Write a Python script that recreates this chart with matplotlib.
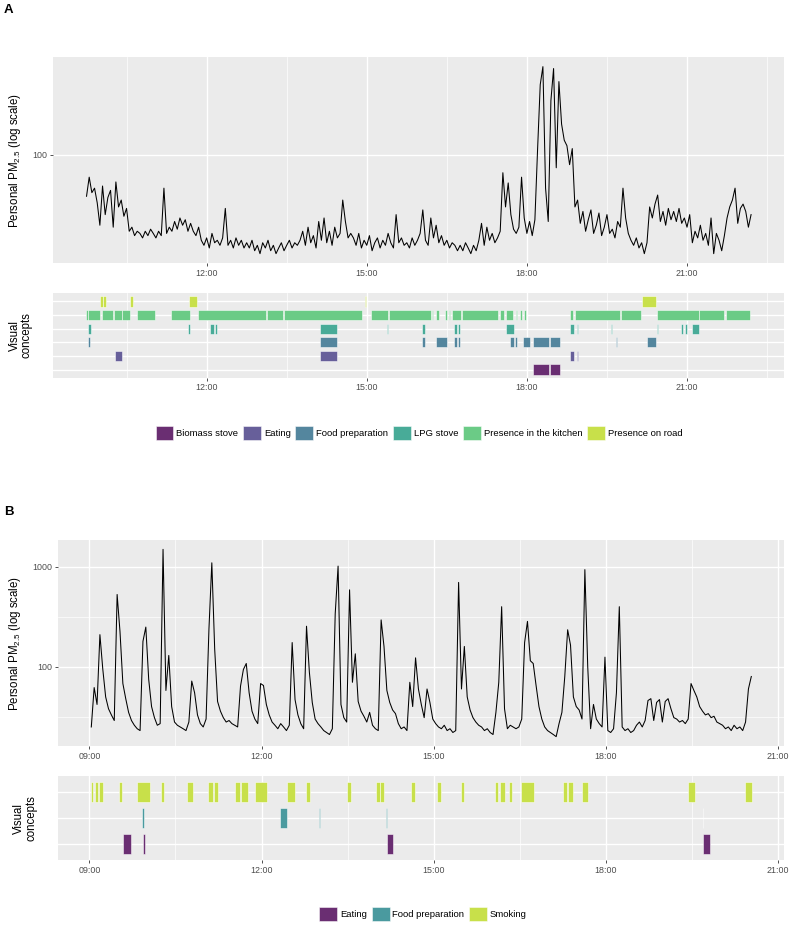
import numpy as np
import matplotlib.pyplot as plt
from matplotlib.patches import Patch
from matplotlib.ticker import FuncFormatter, NullFormatter

plt.rcParams['font.family'] = ['Liberation Sans', 'DejaVu Sans']
plt.rcParams['mathtext.fontset'] = 'custom'
plt.rcParams['mathtext.rm'] = 'Liberation Sans'

# ---- panel A: personal PM2.5, one reading every 3 minutes from 09:45
pm_a_start = "09:45"
pm_a = [
    53, 71, 56, 60, 48, 34, 62, 40, 52, 58, 33, 66, 45, 50, 39, 44, 31, 33, 29, 31,
    30, 28, 31, 29, 32, 30, 28, 31, 29, 60, 30, 33, 31, 36, 32, 38, 34, 37, 31, 35,
    31, 29, 33, 27, 25, 28, 24, 30, 26, 27, 25, 28, 44, 25, 27, 24, 28, 25, 27, 24,
    26, 24, 27, 23, 25, 22, 26, 24, 27, 23, 25, 22, 24, 26, 23, 25, 27, 24, 26, 25,
    27, 31, 25, 33, 26, 29, 24, 36, 27, 38, 26, 31, 25, 33, 28, 30, 50, 36, 28, 30,
    28, 25, 30, 24, 27, 25, 29, 23, 26, 28, 24, 27, 25, 30, 26, 24, 40, 26, 28, 25,
    26, 24, 28, 25, 27, 30, 43, 27, 25, 38, 28, 34, 26, 29, 25, 27, 24, 26, 25, 23,
    25, 23, 26, 24, 22, 25, 23, 27, 35, 25, 33, 27, 30, 26, 28, 31, 76, 45, 65, 40,
    32, 30, 33, 71, 38, 30, 36, 29, 37, 108, 293, 386, 60, 36, 230, 375, 82, 307, 160, 125,
    115, 86, 110, 45, 50, 35, 42, 31, 37, 43, 30, 34, 41, 29, 33, 40, 30, 32, 28, 36,
    33, 60, 38, 30, 27, 25, 28, 24, 26, 22, 26, 45, 38, 47, 54, 36, 42, 34, 44, 37,
    42, 36, 44, 35, 38, 33, 40, 26, 31, 28, 34, 27, 30, 25, 38, 22, 30, 27, 23, 29,
    38, 45, 50, 60, 35, 44, 47, 42, 33, 40,
]

concepts_a = ["Biomass stove", "Eating", "Food preparation", "LPG stove",
              "Presence in the kitchen", "Presence on road"]
colors_a = ["#6a2e72", "#675f9a", "#54869e", "#48ab98", "#6bcb86", "#c8e04a"]

biomass_a = [("18:07", "18:25"), ("18:26", "18:37")]
eating_a = [("10:17", "10:25"), ("14:07", "14:27"), ("18:49", "18:53"), ("18:56", "18:58")]
food_a = [("9:47", "9:49"), ("14:07", "14:27"), ("16:02", "16:05"), ("16:18", "16:30"),
          ("16:38", "16:41"), ("16:43", "16:45"), ("17:41", "17:46"), ("17:47", "17:49"),
          ("17:56", "18:03"), ("18:07", "18:25"), ("18:26", "18:37"), ("19:40", "19:41"),
          ("20:15", "20:25")]
lpg_a = [("9:47", "9:50"), ("11:39", "11:41"), ("12:04", "12:08"), ("12:09", "12:12"),
         ("14:07", "14:27"), ("15:23", "15:24"), ("16:02", "16:05"), ("16:38", "16:41"),
         ("16:43", "16:45"), ("17:37", "17:45"), ("18:49", "18:53"), ("18:56", "18:58"),
         ("19:35", "19:36"), ("20:26", "20:27"), ("20:53", "20:56"), ("20:58", "21:00"),
         ("21:06", "21:14")]
kitchen_a = [("9:44", "9:47"), ("9:47", "10:00"), ("10:02", "10:15"), ("10:16", "10:25"),
             ("10:25", "10:34"), ("10:42", "11:02"), ("11:20", "11:41"), ("11:50", "13:07"),
             ("13:08", "13:26"), ("13:27", "14:55"), ("15:05", "15:24"), ("15:25", "16:12"),
             ("16:13", "16:14"), ("16:18", "16:21"), ("16:28", "16:30"), ("16:32", "16:34"),
             ("16:36", "16:46"), ("16:47", "17:28"), ("17:30", "17:34"), ("17:37", "17:44"),
             ("17:48", "17:49"), ("17:52", "17:54"), ("17:57", "17:59"), ("18:49", "18:52"),
             ("18:54", "19:45"), ("19:46", "20:08"), ("20:26", "21:13"), ("21:14", "21:42"),
             ("21:44", "22:11")]
road_a = [("10:00", "10:03"), ("10:04", "10:07"), ("10:34", "10:37"), ("11:40", "11:49"),
          ("14:58", "14:59"), ("20:09", "20:25")]
spans_a = [biomass_a, eating_a, food_a, lpg_a, kitchen_a, road_a]

# ---- panel B: personal PM2.5, one reading every 3 minutes from 09:02
pm_b_start = "09:02"
pm_b = [
    25, 62, 42, 210, 95, 50, 38, 33, 29, 530, 225, 68, 48, 35, 29, 26, 24, 23, 180, 250,
    75, 40, 31, 26, 27, 1500, 58, 130, 40, 28, 26, 25, 24, 23, 28, 72, 55, 33, 27, 25,
    30, 240, 1100, 150, 45, 36, 31, 28, 29, 27, 26, 25, 64, 94, 108, 55, 36, 30, 27, 68,
    65, 42, 33, 28, 26, 24, 27, 25, 23, 26, 175, 47, 33, 27, 24, 255, 88, 44, 30, 27,
    25, 23, 22, 21, 24, 340, 1020, 42, 31, 28, 590, 70, 135, 45, 36, 32, 28, 35, 26, 24,
    23, 295, 160, 58, 44, 37, 34, 27, 24, 25, 23, 70, 40, 123, 60, 42, 31, 60, 44, 30,
    27, 25, 24, 26, 23, 24, 22, 23, 700, 60, 160, 50, 37, 31, 28, 26, 25, 23, 24, 22,
    21, 35, 70, 400, 38, 24, 26, 25, 24, 25, 30, 175, 285, 115, 108, 65, 40, 30, 25, 23,
    22, 21, 20, 27, 35, 80, 235, 165, 50, 40, 37, 30, 940, 100, 24, 42, 30, 27, 25, 125,
    23, 22, 24, 55, 400, 25, 23, 24, 22, 23, 26, 28, 25, 29, 46, 48, 29, 44, 47, 28,
    45, 48, 38, 31, 30, 28, 29, 27, 30, 68, 58, 50, 40, 36, 33, 34, 31, 32, 28, 27,
    26, 24, 25, 23, 26, 24, 25, 23, 28, 60, 80,
]

concepts_b = ["Eating", "Food preparation", "Smoking"]
colors_b = ["#6a2e72", "#4a9a9f", "#c8e04a"]

eating_b = [("9:35", "9:43"), ("9:56", "9:58"), ("14:11", "14:17"), ("19:42", "19:49")]
food_b = [("9:55", "9:57"), ("12:19", "12:27"), ("13:00", "13:01"), ("14:10", "14:11"),
          ("19:41", "19:42")]
smoking_b = [("9:02", "9:04"), ("9:06", "9:09"), ("9:10", "9:14"), ("9:31", "9:34"),
             ("9:50", "10:03"), ("10:15", "10:18"), ("10:42", "10:48"), ("11:04", "11:09"),
             ("11:10", "11:14"), ("11:32", "11:37"), ("11:38", "11:46"), ("11:53", "12:06"),
             ("12:27", "12:35"), ("12:46", "12:51"), ("13:29", "13:34"), ("14:00", "14:04"),
             ("14:04", "14:08"), ("14:36", "14:40"), ("15:03", "15:08"), ("15:28", "15:32"),
             ("16:04", "16:07"), ("16:09", "16:14"), ("16:19", "16:22"), ("16:31", "16:45"),
             ("17:15", "17:19"), ("17:20", "17:26"), ("17:35", "17:41"), ("19:26", "19:33"),
             ("20:25", "20:33")]
spans_b = [eating_b, food_b, smoking_b]


def hours(t):
    h, m = t.split(":")
    return int(h) + int(m) / 60


BG = "#ebebeb"
TICK = "#4d4d4d"


def style(ax, majors, minors):
    ax.set_facecolor(BG)
    for s in ax.spines.values():
        s.set_visible(False)
    ax.set_xticks(majors)
    ax.set_xticks(minors, minor=True)
    ax.xaxis.set_major_formatter(FuncFormatter(lambda v, p: "%02d:00" % round(v)))
    ax.tick_params(which="major", length=2.5, width=0.6, color="#333333",
                   labelsize=6.4, labelcolor=TICK, pad=1.5)
    ax.tick_params(which="minor", length=0)
    ax.grid(which="major", color="white", lw=1.0)
    ax.grid(which="minor", color="white", lw=0.5)
    ax.set_axisbelow(True)


def series_panel(ax, start, values, majors, minors, yticks, yminor):
    t = hours(start) + np.arange(len(values)) * 3 / 60
    ax.plot(t, values, color="black", lw=0.75)
    ax.set_yscale("log")
    lo, hi = np.log10(min(values)), np.log10(max(values))
    pad = 0.05 * (hi - lo)
    ax.set_ylim(10 ** (lo - pad), 10 ** (hi + pad))
    xpad = 0.05 * (t[-1] - t[0])
    ax.set_xlim(t[0] - xpad, t[-1] + xpad)
    style(ax, majors, minors)
    ax.set_yticks(yticks)
    ax.set_yticklabels([str(v) for v in yticks])
    ax.set_yticks(yminor, minor=True)
    ax.yaxis.set_minor_formatter(NullFormatter())
    ax.set_ylabel("Personal PM$_{\\mathrm{2.5}}$ (log scale)", fontsize=8.3)


def concept_panel(ax, spans, colors, xlim, majors, minors):
    for i, (sp, col) in enumerate(zip(spans, colors)):
        ax.broken_barh([(hours(s), hours(e) - hours(s)) for s, e in sp],
                       (i + 1 - 0.375, 0.75), facecolor=col,
                       edgecolor=(1, 1, 1, 0.7), lw=0.5)
    ax.set_xlim(xlim)
    ax.set_ylim(0.4, len(spans) + 0.6)
    style(ax, majors, minors)
    ax.set_yticks(np.arange(1, len(spans) + 1))
    ax.set_yticklabels([])
    ax.tick_params(axis="y", length=0)
    ax.set_ylabel("Visual\nconcepts", fontsize=8.3, linespacing=1.0)


fig = plt.figure(figsize=(7.9, 9.26), dpi=100)
W, H = 790, 926


def box(x0, x1, y0, y1):
    return [x0 / W, 1 - y1 / H, (x1 - x0) / W, (y1 - y0) / H]


# panel A
ax1 = fig.add_axes(box(53.3, 784.3, 57.3, 263))
series_panel(ax1, pm_a_start, pm_a, [12, 15, 18, 21], [10.5, 13.5, 16.5, 19.5, 22.5],
             [100], [])
ax1.yaxis.set_label_coords(-0.0415, 0.5)

ax2 = fig.add_axes(box(53.3, 784.3, 293.3, 377.7))
concept_panel(ax2, spans_a, colors_a, ax1.get_xlim(), [12, 15, 18, 21],
              [10.5, 13.5, 16.5, 19.5, 22.5])
ax2.yaxis.set_label_coords(-0.028, 0.5)

handles_a = [Patch(facecolor=c, edgecolor=(1, 1, 1, 0.7), lw=0.5) for c in colors_a]
fig.legend(handles_a, concepts_a, loc="center", bbox_to_anchor=(419 / W, 1 - 433 / H),
           ncol=6, frameon=False, fontsize=6.8, handlelength=1.9, handleheight=1.9,
           handletextpad=0.3, columnspacing=0.5)

# panel B
ax3 = fig.add_axes(box(58.3, 784.3, 540, 746))
series_panel(ax3, pm_b_start, pm_b, [9, 12, 15, 18, 21], [10.5, 13.5, 16.5, 19.5],
             [100, 1000], [10 ** 1.5, 10 ** 2.5])
ax3.yaxis.set_label_coords(-0.0486, 0.5)

ax4 = fig.add_axes(box(58.3, 784.3, 776, 860))
concept_panel(ax4, spans_b, colors_b, ax3.get_xlim(), [9, 12, 15, 18, 21],
              [10.5, 13.5, 16.5, 19.5])
ax4.yaxis.set_label_coords(-0.029, 0.5)

handles_b = [Patch(facecolor=c, edgecolor=(1, 1, 1, 0.7), lw=0.5) for c in colors_b]
fig.legend(handles_b, concepts_b, loc="center", bbox_to_anchor=(423 / W, 1 - 914 / H),
           ncol=3, frameon=False, fontsize=6.8, handlelength=1.9, handleheight=1.9,
           handletextpad=0.3, columnspacing=0.5)

fig.text(4 / W, 1 - 4 / H, "A", fontsize=9.5, fontweight="bold", va="top", ha="left")
fig.text(4 / W, 1 - 506 / H, "B", fontsize=9.5, fontweight="bold", va="top", ha="left")

fig.savefig("out.png", dpi=100)
